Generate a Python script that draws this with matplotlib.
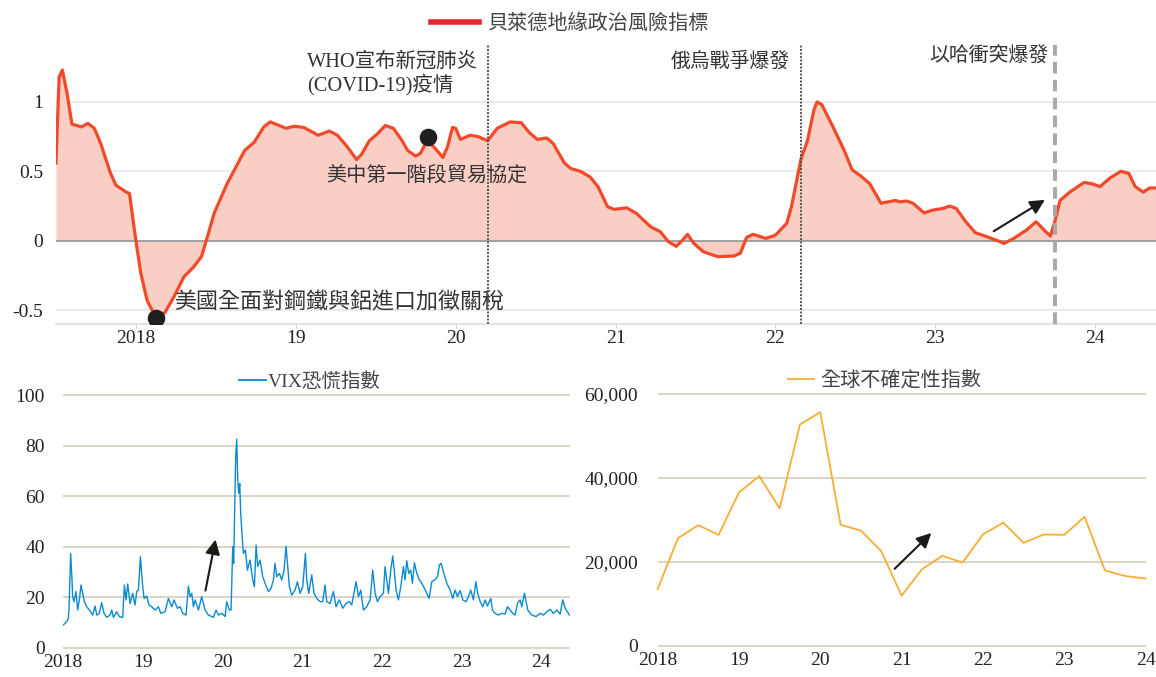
import matplotlib
matplotlib.use('Agg')
import matplotlib.pyplot as plt
from matplotlib.lines import Line2D

plt.rcParams['font.family'] = ['Liberation Serif', 'Noto Sans CJK TC']

# --- 貝萊德地緣政治風險指標 ---
gpr_dates = [2017.50, 2017.52, 2017.54, 2017.57, 2017.60, 2017.66, 2017.70, 2017.74, 2017.78,
             2017.84, 2017.875, 2017.94, 2017.96, 2017.98, 2018.00, 2018.03, 2018.07, 2018.125,
             2018.18, 2018.24, 2018.30, 2018.36, 2018.41, 2018.44, 2018.49, 2018.57, 2018.68,
             2018.74, 2018.80, 2018.84, 2018.94, 2018.99, 2019.05, 2019.14, 2019.21, 2019.26,
             2019.32, 2019.38, 2019.41, 2019.46, 2019.51, 2019.56, 2019.61, 2019.66, 2019.70,
             2019.75, 2019.78, 2019.82, 2019.86, 2019.92, 2019.95, 2019.98, 2020.00, 2020.03,
             2020.09, 2020.14, 2020.20, 2020.26, 2020.34, 2020.41, 2020.46, 2020.51, 2020.57,
             2020.61, 2020.68, 2020.72, 2020.78, 2020.84, 2020.89, 2020.95, 2020.99, 2021.07,
             2021.13, 2021.22, 2021.28, 2021.33, 2021.38, 2021.42, 2021.45, 2021.49, 2021.55,
             2021.64, 2021.74, 2021.78, 2021.82, 2021.86, 2021.94, 2022.00, 2022.07, 2022.10,
             2022.16, 2022.20, 2022.24, 2022.26, 2022.29, 2022.36, 2022.43, 2022.48, 2022.53,
             2022.59, 2022.66, 2022.75, 2022.78, 2022.82, 2022.86, 2022.93, 2022.98, 2023.05,
             2023.09, 2023.13, 2023.19, 2023.25, 2023.32, 2023.39, 2023.43, 2023.49, 2023.57,
             2023.63, 2023.69, 2023.72, 2023.75, 2023.78, 2023.84, 2023.93, 2023.98, 2024.03,
             2024.09, 2024.16, 2024.21, 2024.25, 2024.30, 2024.34, 2024.38]
gpr_values = [0.56, 1.18, 1.23, 1.06, 0.84, 0.82, 0.845, 0.81, 0.70,
              0.49, 0.40, 0.35, 0.34, 0.17, 0.0, -0.23, -0.43, -0.555,
              -0.52, -0.40, -0.26, -0.19, -0.115, 0.0, 0.20, 0.41, 0.65,
              0.71, 0.82, 0.856, 0.81, 0.825, 0.816, 0.76, 0.79, 0.76,
              0.68, 0.585, 0.62, 0.72, 0.77, 0.83, 0.81, 0.73, 0.65,
              0.61, 0.63, 0.72, 0.68, 0.60, 0.68, 0.816, 0.81, 0.73,
              0.76, 0.75, 0.72, 0.81, 0.856, 0.85, 0.78, 0.73, 0.74,
              0.70, 0.56, 0.52, 0.50, 0.46, 0.39, 0.245, 0.226, 0.237,
              0.197, 0.10, 0.065, -0.007, -0.04, 0.005, 0.046, -0.02, -0.08,
              -0.115, -0.11, -0.09, 0.024, 0.046, 0.017, 0.04, 0.125, 0.245,
              0.59, 0.72, 0.94, 1.0, 0.98, 0.82, 0.65, 0.51, 0.47,
              0.41, 0.27, 0.29, 0.28, 0.286, 0.27, 0.20, 0.22, 0.233,
              0.25, 0.233, 0.137, 0.058, 0.03, 0.0, -0.02, 0.017, 0.077,
              0.137, 0.065, 0.034, 0.15, 0.29, 0.35, 0.42, 0.41, 0.39,
              0.45, 0.50, 0.485, 0.39, 0.35, 0.38, 0.38]

event_lines = [2020.20, 2022.16]      # COVID, Russia-Ukraine
israel_line = 2023.75
dot_dates = [2018.125, 2019.83]
dot_values = [-0.555, 0.745]
top_years = [2018, 2019, 2020, 2021, 2022, 2023, 2024]
year_labels = ['2018', '19', '20', '21', '22', '23', '24']

# --- VIX恐慌指數 ---
vix_dates = [2018.004, 2018.046, 2018.067, 2018.075, 2018.096, 2018.113, 2018.121, 2018.138,
             2018.163, 2018.184, 2018.205, 2018.226, 2018.247, 2018.268, 2018.297, 2018.331,
             2018.372, 2018.402, 2018.423, 2018.456, 2018.485, 2018.515, 2018.548, 2018.590,
             2018.611, 2018.632, 2018.674, 2018.707, 2018.749, 2018.770, 2018.791, 2018.812,
             2018.841, 2018.874, 2018.904, 2018.925, 2018.946, 2018.971, 2018.996, 2019.017,
             2019.050, 2019.079, 2019.113, 2019.155, 2019.197, 2019.226, 2019.280, 2019.322,
             2019.364, 2019.393, 2019.435, 2019.469, 2019.502, 2019.544, 2019.573, 2019.594,
             2019.615, 2019.636, 2019.657, 2019.699, 2019.740, 2019.782, 2019.824, 2019.886,
             2019.920, 2019.949, 2019.991, 2020.033, 2020.054, 2020.087, 2020.108, 2020.129,
             2020.141, 2020.154, 2020.166, 2020.179, 2020.192, 2020.204, 2020.217, 2020.229,
             2020.242, 2020.263, 2020.288, 2020.313, 2020.346, 2020.380, 2020.401, 2020.422,
             2020.443, 2020.472, 2020.505, 2020.535, 2020.576, 2020.610, 2020.639, 2020.660,
             2020.681, 2020.714, 2020.744, 2020.773, 2020.798, 2020.819, 2020.840, 2020.869,
             2020.911, 2020.940, 2020.974, 2021.007, 2021.041, 2021.057, 2021.082, 2021.120,
             2021.149, 2021.183, 2021.225, 2021.258, 2021.287, 2021.308, 2021.350, 2021.392,
             2021.425, 2021.467, 2021.509, 2021.551, 2021.593, 2021.622, 2021.676, 2021.706,
             2021.735, 2021.768, 2021.810, 2021.852, 2021.885, 2021.915, 2021.944, 2021.977,
             2022.019, 2022.040, 2022.061, 2022.082, 2022.111, 2022.136, 2022.157, 2022.178,
             2022.207, 2022.237, 2022.270, 2022.291, 2022.312, 2022.337, 2022.362, 2022.383,
             2022.408, 2022.438, 2022.471, 2022.500, 2022.534, 2022.563, 2022.592, 2022.626,
             2022.668, 2022.697, 2022.722, 2022.743, 2022.772, 2022.814, 2022.856, 2022.889,
             2022.918, 2022.948, 2022.981, 2023.015, 2023.056, 2023.086, 2023.115, 2023.148,
             2023.178, 2023.203, 2023.232, 2023.266, 2023.295, 2023.324, 2023.366, 2023.387,
             2023.420, 2023.462, 2023.504, 2023.546, 2023.575, 2023.609, 2023.642, 2023.671,
             2023.701, 2023.734, 2023.755, 2023.788, 2023.809, 2023.830, 2023.880, 2023.935,
             2023.985, 2024.027, 2024.069, 2024.110, 2024.152, 2024.194, 2024.236, 2024.269,
             2024.299, 2024.328, 2024.353]
vix_values = [9.0, 10.3, 11.6, 14.9, 37.3, 26.8, 20.2, 18.2,
              22.2, 14.9, 18.9, 24.8, 21.5, 18.2, 16.2, 14.9,
              12.9, 16.5, 12.9, 13.6, 17.8, 13.6, 12.0, 12.9,
              14.9, 12.0, 14.2, 12.3, 12.0, 24.8, 18.9, 25.2,
              17.5, 21.5, 16.9, 22.2, 22.8, 36.0, 25.5, 19.5,
              20.4, 16.9, 16.2, 14.9, 16.2, 13.6, 14.2, 19.5,
              16.2, 18.9, 15.6, 16.2, 13.6, 12.9, 24.4, 20.2,
              21.5, 16.2, 18.9, 14.9, 20.2, 14.9, 12.9, 12.0,
              14.9, 12.9, 13.6, 12.3, 18.2, 14.9, 14.9, 40.0,
              33.4, 55.8, 75.6, 82.5, 66.4, 61.1, 65.0, 53.2,
              46.6, 37.3, 38.7, 30.7, 34.7, 26.8, 24.1, 40.6,
              32.1, 34.7, 28.1, 25.5, 22.2, 23.5, 26.8, 33.4,
              28.1, 29.4, 26.8, 30.7, 40.2, 32.1, 24.1, 20.8,
              22.8, 26.1, 21.5, 24.1, 37.3, 26.8, 21.5, 28.8,
              21.5, 19.5, 18.2, 18.2, 24.8, 18.2, 17.5, 22.2,
              16.2, 18.9, 15.6, 17.5, 18.2, 16.9, 26.1, 20.2,
              22.8, 14.9, 16.2, 18.9, 30.7, 21.5, 18.2, 20.2,
              21.5, 32.1, 26.8, 21.5, 30.7, 36.3, 30.1, 22.8,
              18.9, 24.1, 32.1, 26.8, 34.4, 29.4, 30.7, 25.5,
              33.6, 29.4, 26.8, 25.5, 23.5, 21.5, 19.5, 26.1,
              27.0, 28.1, 32.7, 33.4, 30.1, 25.5, 22.8, 19.5,
              22.8, 20.2, 22.6, 18.9, 18.2, 20.2, 22.8, 18.9,
              26.1, 21.5, 18.2, 16.2, 18.9, 16.5, 19.5, 14.9,
              13.6, 12.9, 13.6, 13.3, 16.2, 14.9, 13.6, 12.9,
              17.5, 18.9, 16.2, 21.5, 18.2, 14.9, 12.9, 12.3,
              13.6, 12.9, 14.2, 15.2, 13.6, 14.9, 13.3, 18.9,
              15.6, 14.2, 12.9]

# --- 全球不確定性指數 (quarterly) ---
gui_dates = [2018.0, 2018.25, 2018.5, 2018.75, 2019.0, 2019.25, 2019.5, 2019.75,
             2020.0, 2020.25, 2020.5, 2020.75, 2021.0, 2021.25, 2021.5, 2021.75,
             2022.0, 2022.25, 2022.5, 2022.75, 2023.0, 2023.25, 2023.5, 2023.75, 2024.0]
gui_values = [13500, 25600, 28700, 26400, 36500, 40400, 32700, 52700,
              55600, 28800, 27400, 22500, 11900, 18200, 21400, 19800,
              26500, 29300, 24500, 26500, 26400, 30700, 17900, 16600, 16000]

text_col = '#333333'
tick_col = '#222222'
grid_beige = '#dcd6c8'
tick_size = 14

fig = plt.figure(figsize=(11.56, 6.77), dpi=100)

# ---------------- top panel ----------------
ax1 = fig.add_axes([0.0484, 0.5214, 0.9516, 0.4121])
ax1.set_xlim(2017.5, 2024.38)
ax1.set_ylim(-0.6, 1.41)
for y in [-0.5, 0.5, 1]:
    ax1.axhline(y, color='#e8e8e8', lw=1.2, zorder=0)
ax1.fill_between(gpr_dates, gpr_values, 0, color='#f9cec4', lw=0, zorder=1)
ax1.axhline(0, color='#9a9a9a', lw=1.3, zorder=2)
ax1.plot(gpr_dates, gpr_values, color='#f04a2a', lw=2.3, zorder=3, solid_joinstyle='round')
for xv in event_lines:
    ax1.axvline(xv, color='#555555', lw=1.4, ls=(0, (1, 0.8)), zorder=4)
ax1.axvline(israel_line, color='#a8a8a8', lw=2.8, ls=(0, (3, 1.6)), zorder=4)
ax1.scatter(dot_dates, dot_values, s=135, color='#1f1f1f', zorder=6)

ax1.annotate('', xy=(2023.70, 0.305), xytext=(2023.35, 0.058),
             arrowprops=dict(arrowstyle='-|>', color='#1a1a1a', lw=1.5, mutation_scale=22))

ax1.text(2018.24, -0.448, '美國全面對鋼鐵與鋁進口加徵關稅', fontsize=15.8, color=text_col,
         ha='left', va='center')
ax1.text(2019.19, 0.465, '美中第一階段貿易協定', fontsize=14.5, color=text_col,
         ha='left', va='center')
ax1.text(2019.07, 1.20, 'WHO宣布新冠肺炎\n(COVID-19)疫情', fontsize=14.7, color=text_col,
         ha='left', va='center', linespacing=1.1)
ax1.text(2022.09, 1.29, '俄烏戰爭爆發', fontsize=14.3, color=text_col, ha='right', va='center')
ax1.text(2023.705, 1.32, '以哈衝突爆發', fontsize=14.3, color=text_col, ha='right', va='center')

ax1.set_yticks([-0.5, 0, 0.5, 1])
ax1.set_yticklabels(['-0.5', '0', '0.5', '1'])
ax1.set_xticks(top_years)
ax1.set_xticklabels(year_labels)
ax1.tick_params(axis='y', length=0, pad=9, labelsize=tick_size, labelcolor=tick_col)
ax1.tick_params(axis='x', length=3, color='#cccccc', pad=1.5, labelsize=tick_size, labelcolor=tick_col)
for s in ['top', 'right', 'left']:
    ax1.spines[s].set_visible(False)
ax1.spines['bottom'].set_color('#dddddd')
ax1.spines['bottom'].set_linewidth(1.2)

fig.legend(handles=[Line2D([], [], color='#e8252c', lw=4)], labels=['貝萊德地緣政治風險指標'],
           loc='center', bbox_to_anchor=(0.493, 0.9645), frameon=False, fontsize=14.5,
           handlelength=2.4, handletextpad=0.45, labelcolor='#444444')

# ---------------- bottom-left: VIX ----------------
ax2 = fig.add_axes([0.0545, 0.0396, 0.4386, 0.3806])
ax2.set_xlim(2018, 2024.36)
ax2.set_ylim(-1, 101)
for y in [0, 20, 40, 60, 80, 100]:
    ax2.axhline(y, color=grid_beige, lw=1.5, zorder=0)
ax2.plot(vix_dates, vix_values, color='#0b8ad0', lw=1.0, zorder=2)
ax2.annotate('', xy=(2019.92, 43.9), xytext=(2019.78, 21.5),
             arrowprops=dict(arrowstyle='-|>', color='#1a1a1a', lw=1.5, mutation_scale=22))
ax2.set_yticks([0, 20, 40, 60, 80, 100])
ax2.set_xticks(top_years)
ax2.set_xticklabels(year_labels)
ax2.tick_params(axis='y', length=0, pad=13, labelsize=tick_size, labelcolor=tick_col)
ax2.tick_params(axis='x', length=0, pad=3, labelsize=tick_size, labelcolor=tick_col)
for s in ax2.spines.values():
    s.set_visible(False)
fig.legend(handles=[Line2D([], [], color='#0b8ad0', lw=1.3)], labels=['VIX恐慌指數'],
           loc='center', bbox_to_anchor=(0.268, 0.437), frameon=False, fontsize=14,
           handlelength=1.35, handletextpad=0.1, labelcolor='#444444')

# ---------------- bottom-right: global uncertainty ----------------
ax3 = fig.add_axes([0.5689, 0.0425, 0.4221, 0.3796])
ax3.set_xlim(2018, 2024)
ax3.set_ylim(-600, 60600)
for y in [0, 20000, 40000, 60000]:
    ax3.axhline(y, color=grid_beige, lw=1.5, zorder=0)
ax3.plot(gui_dates, gui_values, color='#f8ad33', lw=1.3, zorder=2, clip_on=False)
ax3.annotate('', xy=(2021.39, 27310), xytext=(2020.89, 17860),
             arrowprops=dict(arrowstyle='-|>', color='#1a1a1a', lw=1.5, mutation_scale=22))
ax3.set_yticks([0, 20000, 40000, 60000])
ax3.set_yticklabels(['0', '20,000', '40,000', '60,000'])
ax3.set_xticks(top_years)
ax3.set_xticklabels(year_labels)
ax3.tick_params(axis='y', length=0, pad=14, labelsize=tick_size, labelcolor=tick_col)
ax3.tick_params(axis='x', length=0, pad=3, labelsize=tick_size, labelcolor=tick_col)
for s in ax3.spines.values():
    s.set_visible(False)
fig.legend(handles=[Line2D([], [], color='#f8ad33', lw=1.3)], labels=['全球不確定性指數'],
           loc='center', bbox_to_anchor=(0.765, 0.437), frameon=False, fontsize=14.5,
           handlelength=1.3, handletextpad=0.3, labelcolor='#444444')

fig.savefig('out.png', dpi=100)
